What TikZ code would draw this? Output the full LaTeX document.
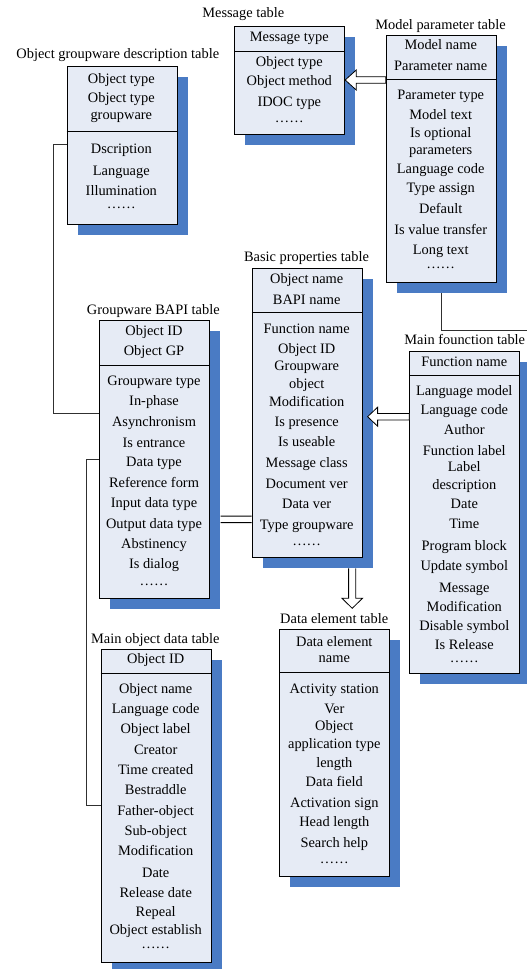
\documentclass[tikz,border=0pt]{standalone}
\usepackage{fontspec}
\setmainfont{Liberation Serif}
\usetikzlibrary{shadows,backgrounds,calc}
\definecolor{boxfill}{HTML}{E6EBF5}
\definecolor{shadowblue}{HTML}{4A7BC4}
\definecolor{linegray}{HTML}{303030}
\tikzset{
  tbl/.style={draw=black, line width=0.9bp, fill=boxfill, anchor=north west, inner sep=0pt,
    minimum width=110bp,
    drop shadow={shadow xshift=10.7bp, shadow yshift=-10.7bp, fill=shadowblue, opacity=1}},
  row/.style={anchor=base, yshift=-4.7bp, inner sep=0pt, font=\fontsize{14.4bp}{17bp}\selectfont},
  dotrow/.style={anchor=center, inner sep=0pt, font=\fontsize{14.4bp}{17bp}\selectfont},
  divider/.style={draw=black, line width=0.9bp},
  conn/.style={draw=linegray, line width=1bp},
  hollow/.style={draw=black, fill=white, line width=0.8bp, line join=miter}
}
\begin{document}
\begin{tikzpicture}[x=1bp, y=-1bp]
\useasboundingbox (0,0) rectangle (527,969);

% ---------- Object groupware description table
\node[row] (gdesc-t) at (117.8,54) {Object groupware description table};
\node[tbl, minimum height=158.3bp] (gdesc) at (66.7,65.7) {};
\draw[divider] ([yshift=-66bp]gdesc.north west) -- ([yshift=-66bp]gdesc.north east);
\foreach \ry/\rt [count=\i] in {79/Object type, 98/Object type, 115/groupware, 149/Dscription, 171/Language, 191/Illumination}
  \node[row] (gdesc-\i) at (121.3,\ry) {\rt};
\node[dotrow] (gdesc-d) at (121.3,208) {……};

% ---------- Message table
\node[row] (msg-t) at (243.3,12.7) {Message table};
\node[tbl, minimum height=107.4bp] (msg) at (234.3,26.3) {};
\draw[divider] ([yshift=-25.4bp]msg.north west) -- ([yshift=-25.4bp]msg.north east);
\foreach \ry/\rt [count=\i] in {36.7/Message type, 61.7/Object type, 81/Object method, 101.7/IDOC type}
  \node[row] (msg-\i) at (289.3,\ry) {\rt};
\node[dotrow] (msg-d) at (289.3,121.7) {……};

% ---------- Model parameter table
\node[row] (model-t) at (440.5,24.3) {Model parameter table};
\node[tbl, minimum height=247.6bp] (model) at (385.7,34.7) {};
\draw[divider] ([yshift=-44.6bp]model.north west) -- ([yshift=-44.6bp]model.north east);
\foreach \ry/\rt [count=\i] in {45/Model name, 66/Parameter name, 94.7/Parameter type, 115/Model text,
    132.7/Is optional, 150/parameters, 168.3/Language code, 187.7/Type assign, 208.3/Default,
    229.3/Is value transfer, 249.3/Long text}
  \node[row] (model-\i) at (440.7,\ry) {\rt};
\node[dotrow] (model-d) at (440.7,268.3) {……};

% ---------- Basic properties table
\node[row] (basic-t) at (306.5,256.7) {Basic properties table};
\node[tbl, minimum height=288.4bp] (basic) at (251.7,268.3) {};
\draw[divider] ([yshift=-44bp]basic.north west) -- ([yshift=-44bp]basic.north east);
\foreach \ry/\rt [count=\i] in {279/Object name, 299.3/BAPI name, 328.3/Function name, 348.3/Object ID,
    366/Groupware, 383.3/object, 401.7/Modification, 421.7/Is presence, 441.7/Is useable,
    462.3/Message class, 483.3/Document ver, 503.3/Data ver, 524.3/Type groupware}
  \node[row] (basic-\i) at (306.7,\ry) {\rt};
\node[dotrow] (basic-d) at (306.7,545) {……};

% ---------- Groupware BAPI table
\node[row] (bapi-t) at (153.3,310) {Groupware BAPI table};
\node[tbl, minimum height=278.3bp] (bapi) at (99,320) {};
\draw[divider] ([yshift=-45bp]bapi.north west) -- ([yshift=-45bp]bapi.north east);
\foreach \ry/\rt [count=\i] in {330.7/Object ID, 351/Object GP, 380.7/Groupware type, 400.7/In-phase,
    421.7/Asynchronism, 442.3/Is entrance, 461.7/Data type, 482.3/Reference form,
    502.7/Input data type, 523.3/Output data type, 543.3/Abstinency, 564/Is dialog}
  \node[row] (bapi-\i) at (154,\ry) {\rt};
\node[dotrow] (bapi-d) at (154,585) {……};

% ---------- Main founction table
\node[row] (mainfn-t) at (464.7,339.5) {Main founction table};
\node[tbl, minimum height=322.6bp] (mainfn) at (409.3,350.7) {};
\draw[divider] ([yshift=-25bp]mainfn.north west) -- ([yshift=-25bp]mainfn.north east);
\foreach \ry/\rt [count=\i] in {361.7/Function name, 390.7/Language model, 410/Language code, 430/Author,
    450.7/Function label, 466.7/Label, 485/description, 503.3/Date, 523.3/Time,
    546/Program block, 566/Update symbol, 587.3/Message, 606.7/Modification,
    626/Disable symbol, 645/Is Release}
  \node[row] (mainfn-\i) at (464.3,\ry) {\rt};
\node[dotrow] (mainfn-d) at (464.3,661.7) {……};

% ---------- Data element table
\node[row] (delem-t) at (334.2,618.3) {Data element table};
\node[tbl, minimum height=247bp] (delem) at (279.3,629) {};
\draw[divider] ([yshift=-43.7bp]delem.north west) -- ([yshift=-43.7bp]delem.north east);
\foreach \ry/\rt [count=\i] in {641.7/Data element, 657.3/name, 688.3/Activity station, 708.3/Ver,
    726/Object, 744/application type, 762.7/length, 781.7/Data field, 802.3/Activation sign,
    821.7/Head length, 842.7/Search help}
  \node[row] (delem-\i) at (334.3,\ry) {\rt};
\node[dotrow] (delem-d) at (334.3,863.3) {……};

% ---------- Main object data table
\node[row] (mobj-t) at (155.3,639) {Main object data table};
\node[tbl, minimum height=312.7bp] (mobj) at (100.7,649) {};
\draw[divider] ([yshift=-24.7bp]mobj.north west) -- ([yshift=-24.7bp]mobj.north east);
\foreach \ry/\rt [count=\i] in {659/Object ID, 688.3/Object name, 708.3/Language code, 729/Object label,
    749.3/Creator, 770/Time created, 789.3/Bestraddle, 810.7/Father-object, 831/Sub-object,
    851/Modification, 872.3/Date, 892.3/Release date, 911.7/Repeal, 930/Object establish}
  \node[row] (mobj-\i) at (155.7,\ry) {\rt};
\node[dotrow] (mobj-d) at (155.7,947.7) {……};

% ---------- plain connectors (behind shadows)
\begin{scope}[on background layer]
  \draw[conn] ([yshift=-78.3bp]gdesc.north west) -- ++(-13.7,0) |- ([yshift=-93bp]bapi.north west);
  \draw[conn] ([yshift=-139.3bp]bapi.north west) -- ++(-12.3,0) |- ([yshift=-156bp]mobj.north west);
  \coordinate (mpend) at (527,330);
  \draw[conn] (model.south) |- (mpend);
\end{scope}

% ---------- double line BAPI -- Basic
\draw[conn, draw=black, line width=1bp] ([xshift=10.7bp,yshift=-196bp]bapi.north east) -- ([yshift=-247.7bp]basic.north west);
\draw[conn, draw=black, line width=1bp] ([xshift=10.7bp,yshift=-202.7bp]bapi.north east) -- ([yshift=-254.4bp]basic.north west);

% ---------- hollow arrow Model -> Message
\coordinate (t1) at ([yshift=-53.7bp]msg.north east);
\coordinate (e1) at ([yshift=-45.3bp]model.north west);
\filldraw[hollow] (t1) -- ++(11,-10) -- ++(0,6.7) -- ($(e1)+(0,-3.3)$) -- ($(e1)+(0,3.3)$)
  -- ($(t1)+(11,3.3)$) -- ++(0,6.7) -- cycle;

% ---------- hollow arrow Main founction -> Basic
\coordinate (t2) at ([xshift=5bp,yshift=-148.4bp]basic.north east);
\coordinate (e2) at ([yshift=-66bp]mainfn.north west);
\filldraw[hollow] (t2) -- ++(10,-9.5) -- ++(0,6.2) -- ($(e2)+(0,-3.3)$) -- ($(e2)+(0,3.3)$)
  -- ($(t2)+(10,3.3)$) -- ++(0,6.2) -- cycle;

% ---------- hollow arrow Basic -> Data element (downward)
\coordinate (s3) at ([xshift=-10.4bp,yshift=-10.7bp]basic.south east);
\coordinate (dtip) at ($(s3)+(0,40)$);
\filldraw[hollow] ($(s3)+(-3.6,0)$) -- ++(0,29.9) -- ++(-6.7,0) -- (dtip)
  -- ($(s3)+(10.4,29.9)$) -- ++(-6.8,0) -- ($(s3)+(3.6,0)$);

\end{tikzpicture}
\end{document}
